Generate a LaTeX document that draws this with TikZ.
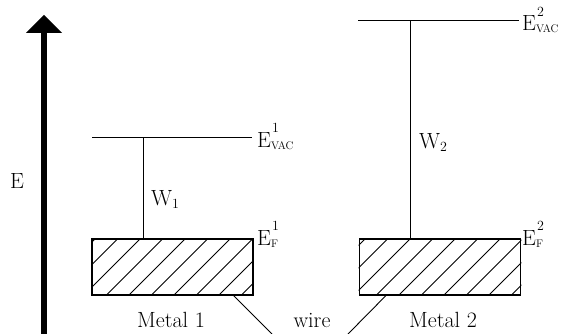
\documentclass[tikz,border=0pt]{standalone}
\usepackage{fontspec}
\tikzset{
  lbl/.style={inner sep=0pt, font=\fontsize{22}{26}\selectfont},
  metalbox/.style={draw, line width=1.6pt, rectangle, inner sep=0pt, minimum width=161pt, minimum height=56pt},
  level/.style={line width=1pt},
  hatch/.style={line width=0.8pt},
  wirestyle/.style={line width=0.9pt},
}
\newcommand{\supsub}[2]{E\makebox[0pt][l]{\hspace{1pt}\raisebox{14.5pt}{\fontsize{14}{14}\selectfont #1}}\raisebox{-2pt}{\fontsize{11}{11}\selectfont #2}}
\newcommand{\wsub}[1]{W\raisebox{-3pt}{\fontsize{14}{14}\selectfont #1}}
\begin{document}
\begin{tikzpicture}[x=1pt,y=-1pt]
\useasboundingbox (0,0) rectangle (564,334);
% energy axis
\coordinate (abot) at (44,334);
\coordinate (atop) at (44,30);
\draw[line width=6pt] (abot) -- (atop);
\fill (26,33) -- (44,15) -- (62,33) -- cycle;
\node[lbl] (E) at (17,181) {E};
% metal 1
\node[metalbox] (m1) at (172.5,267) {};
\begin{scope}
  \clip (m1.south west) rectangle (m1.north east);
  \foreach \c in {244,266.5,...,600} \draw[hatch] (\c-300,300) -- (\c-230,230);
\end{scope}
\node[metalbox] at (m1) {};
\coordinate (v1a) at (92,137);
\coordinate (v1b) at (252,137);
\draw[level] (v1a) -- (v1b);
\coordinate (w1top) at (143,137);
\draw[level] (w1top) -- (w1top |- m1.north);
\node[lbl, anchor=base west] (E1vac) at (257,147) {\supsub{1}{VAC}};
\node[lbl, anchor=base west] (E1F) at (257,245) {\supsub{1}{F}};
\node[lbl, anchor=base west] (W1) at (151,205) {\wsub{1}};
\node[lbl, anchor=base] (M1) at (171,327) {Metal 1};
% metal 2
\node[metalbox] (m2) at (440,267) {};
\begin{scope}
  \clip (m2.south west) rectangle (m2.north east);
  \foreach \c in {514,536.5,...,900} \draw[hatch] (\c-300,300) -- (\c-230,230);
\end{scope}
\node[metalbox] at (m2) {};
\coordinate (v2a) at (358,21);
\coordinate (v2b) at (519,21);
\draw[level] (v2a) -- (v2b);
\coordinate (w2top) at (410,21);
\draw[level] (w2top) -- (w2top |- m2.north);
\node[lbl, anchor=base west] (E2vac) at (522,31) {\supsub{2}{VAC}};
\node[lbl, anchor=base west] (E2F) at (522,245) {\supsub{2}{F}};
\node[lbl, anchor=base west] (W2) at (419,148) {\wsub{2}};
\node[lbl, anchor=base] (M2) at (443,327) {Metal 2};
% wire
\coordinate (wl) at (272,334);
\coordinate (wr) at (348,334);
\draw[wirestyle] ([xshift=-20pt]m1.south east) -- (wl);
\draw[wirestyle] ([xshift=27pt]m2.south west) -- (wr);
\node[lbl, anchor=base] (wire) at (312,327) {wire};
\end{tikzpicture}
\end{document}
